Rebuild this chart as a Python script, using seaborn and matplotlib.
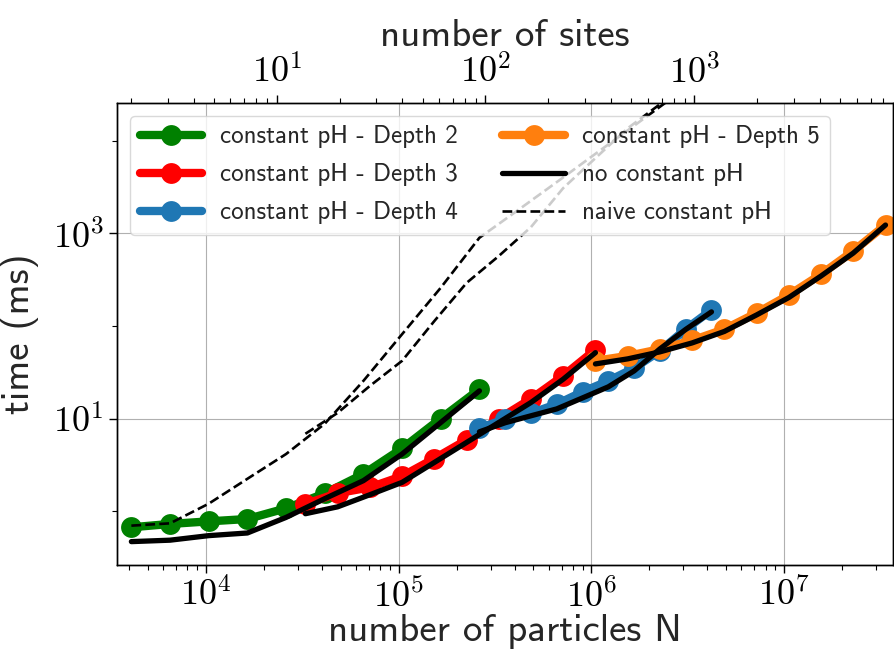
import numpy as np
import matplotlib
matplotlib.use("Agg")
import matplotlib.pyplot as plt
from matplotlib.ticker import FuncFormatter, FixedLocator, LogLocator, NullFormatter
from matplotlib.lines import Line2D
import seaborn as sns

# Number of particles per run, one grid per tree depth
n_depth2 = [4096, 6502, 10321, 16384, 26008, 41285, 65536, 104032, 165140, 262144]
n_depth3 = [32768, 48170, 70814, 104032, 152931, 224817, 330281, 485400, 713200, 1048576]
n_depth4 = [262144, 356724, 485420, 660559, 898880, 1223180, 1664482, 2264998, 3082180, 4194304]
n_depth5 = [1048576, 1541100, 2265000, 3329000, 4893000, 7191000, 10570000, 15533000, 22830000, 33554432]

# Timings (ms) with constant pH
t_depth2 = [0.667, 0.725, 0.773, 0.820, 1.07, 1.55, 2.51, 4.74, 10.0, 20.7]
t_depth3 = [1.19, 1.56, 1.80, 2.38, 3.69, 5.86, 9.93, 16.3, 28.9, 55.5]
t_depth4 = [7.84, 9.86, 11.4, 14.3, 19.4, 25.5, 35.0, 53.8, 92.3, 149]
t_depth5 = [42.0, 47.5, 56.1, 69.8, 92.2, 138, 216, 362, 646, 1233]

# Timings (ms) without constant pH
t_plain2 = [0.467, 0.484, 0.542, 0.579, 0.853, 1.36, 2.13, 4.13, 9.05, 19.9]
t_plain3 = [0.935, 1.11, 1.50, 2.04, 3.35, 5.51, 9.06, 14.9, 26.6, 51.5]
t_plain4 = [7.18, 9.0, 10.7, 12.7, 16.7, 22.0, 32.7, 56.5, 91.8, 142]
t_plain5 = [38.9, 44.1, 52.5, 65.6, 87.3, 131.6, 203, 347, 614, 1233]

# Naive constant pH timings (ms)
n_naive_a = [4096, 6502, 10321, 16384, 26008, 41285, 65536, 104032, 165140, 262144,
             416179, 660561, 1048576, 1664510, 2642245]
t_naive_a = [0.695, 0.736, 1.2, 2.23, 4.13, 8.77, 25.5, 81.5, 259, 899,
             1790, 3590, 7260, 14600, 29600]
n_naive_b = [32768, 48170, 70814, 104032, 152931, 224817, 330281, 485400, 713200,
             1048576, 1541100, 2265000, 3329000]
t_naive_b = [6.84, 11.5, 22.5, 42.0, 113, 292, 570, 1172, 3090, 6520, 13700, 24900, 50000]

labels = ["constant pH - Depth 2", "constant pH - Depth 3", "constant pH - Depth 4",
          "constant pH - Depth 5", "no constant pH", "naive constant pH"]
colors = ["green", "red", "#1f77b4", "#ff7f0e"]

sns.set_theme(style="ticks")
plt.rcParams.update({
    "font.family": ["cmss10", "DejaVu Sans"],
    "mathtext.fontset": "cm",
    "axes.unicode_minus": False,
    "axes.edgecolor": "black",
    "axes.linewidth": 1.0,
    "xtick.color": "black",
    "ytick.color": "black",
})

fig = plt.figure(figsize=(8.95, 6.57), dpi=100)
ax = fig.add_axes([117 / 895, 1 - 565 / 657, (893 - 117) / 895, (565 - 103) / 657])

series = [(n_depth2, t_depth2, t_plain2), (n_depth3, t_depth3, t_plain3),
          (n_depth4, t_depth4, t_plain4), (n_depth5, t_depth5, t_plain5)]

for (n, t, _), c in zip(series, colors):
    sns.lineplot(x=n, y=t, ax=ax, color=c, linewidth=6, marker="o", markersize=15,
                 markeredgewidth=0, sort=False, estimator=None)
for n, _, tp in series:
    sns.lineplot(x=n, y=tp, ax=ax, color="black", linewidth=3.8, sort=False, estimator=None)
for n, t in [(n_naive_a, t_naive_a), (n_naive_b, t_naive_b)]:
    sns.lineplot(x=n, y=t, ax=ax, color="black", linewidth=1.9, linestyle="--",
                 sort=False, estimator=None)

ax.set_xscale("log")
ax.set_yscale("log")
ax.set_xlim(3450, 3.67e7)
ax.set_ylim(0.261, 2.57e4)

pow_fmt = FuncFormatter(lambda v, _: r"$10^{%d}$" % int(round(np.log10(v))))
ax.xaxis.set_major_locator(FixedLocator([1e4, 1e5, 1e6, 1e7]))
ax.xaxis.set_minor_locator(LogLocator(base=10, subs=np.arange(2, 10), numticks=20))
ax.xaxis.set_major_formatter(pow_fmt)
ax.xaxis.set_minor_formatter(NullFormatter())
ax.yaxis.set_major_locator(FixedLocator([1e1, 1e3]))
ax.yaxis.set_minor_locator(FixedLocator([1e0, 1e2, 1e4]))
ax.yaxis.set_major_formatter(pow_fmt)
ax.yaxis.set_minor_formatter(NullFormatter())
ax.tick_params(which="major", length=6, width=1.0, labelsize=26, direction="out")
ax.tick_params(which="minor", length=3.5, width=0.8, direction="out")
ax.grid(True, which="major", color="#b0b0b0", linewidth=0.8)
ax.set_axisbelow(True)

ax.set_xlabel("number of particles N", fontsize=28, labelpad=0)
ax.set_ylabel("time (ms)", fontsize=28, labelpad=10)

top = ax.twiny()
top.set_xscale("log")
top.set_xlim(1.718, 8960)
top.xaxis.set_major_locator(FixedLocator([1e1, 1e2, 1e3]))
top.xaxis.set_minor_locator(LogLocator(base=10, subs=np.arange(2, 10), numticks=20))
top.xaxis.set_major_formatter(pow_fmt)
top.xaxis.set_minor_formatter(NullFormatter())
top.tick_params(which="major", length=6, width=1.0, labelsize=26, direction="out")
top.tick_params(which="minor", length=3.5, width=0.8, direction="out")
top.set_xlabel("number of sites", fontsize=28, labelpad=6)

handles = [Line2D([], [], color=c, linewidth=6, marker="o", markersize=15, markeredgewidth=0)
           for c in colors]
handles.append(Line2D([], [], color="black", linewidth=3.8))
handles.append(Line2D([], [], color="black", linewidth=1.9, linestyle="--"))
leg = ax.legend(handles, labels, loc="upper left", ncol=2, fontsize=18, handlelength=2.5,
                handletextpad=0.7, columnspacing=1.8, labelspacing=0.6,
                framealpha=0.8, fancybox=True)
leg.get_frame().set_edgecolor("#d0d0d0")
leg.set_zorder(10)

fig.savefig("out.png", dpi=100)
